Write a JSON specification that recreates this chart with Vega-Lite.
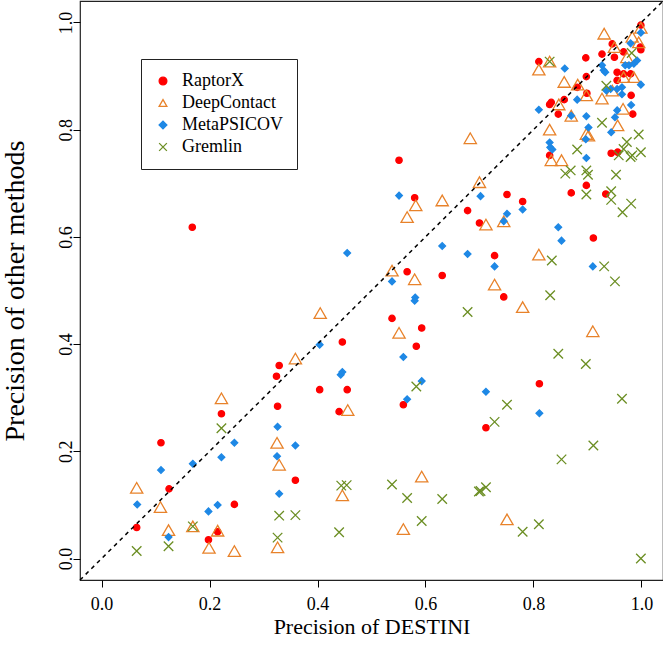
{
  "$schema": "https://vega.github.io/schema/vega-lite/v6.json",
  "width": 583,
  "height": 579,
  "autosize": {"type": "none"},
  "padding": {"left": 80, "top": 1, "right": 0, "bottom": 79},
  "background": "white",
  "config": {
    "view": {"stroke": "#222222", "strokeWidth": 1.2},
    "font": "Liberation Serif",
    "axis": {
      "grid": false,
      "domain": false,
      "tickColor": "black",
      "tickSize": 7,
      "tickWidth": 1,
      "labelFont": "Liberation Serif",
      "labelFontSize": 18,
      "labelColor": "black",
      "labelFlush": false,
      "titleFont": "Liberation Serif",
      "titleFontWeight": "normal",
      "titleColor": "black"
    },
    "legend": {
      "orient": "none",
      "legendX": 61,
      "legendY": 58,
      "strokeColor": "#222222",
      "fillColor": "white",
      "padding": 13,
      "labelFont": "Liberation Serif",
      "labelFontSize": 18,
      "labelColor": "black",
      "symbolSize": 60,
      "symbolStrokeWidth": 1.3,
      "rowPadding": 4,
      "labelOffset": 10
    }
  },
  "datasets": {
    "diag": [{"x": -0.04, "y": -0.04, "x2": 1.04, "y2": 1.04}],
    "pts": [
      {"method": "RaptorX", "x": 0.065, "y": 0.058},
      {"method": "RaptorX", "x": 0.110, "y": 0.216},
      {"method": "RaptorX", "x": 0.125, "y": 0.130},
      {"method": "RaptorX", "x": 0.168, "y": 0.618},
      {"method": "RaptorX", "x": 0.198, "y": 0.035},
      {"method": "RaptorX", "x": 0.215, "y": 0.050},
      {"method": "RaptorX", "x": 0.222, "y": 0.270},
      {"method": "RaptorX", "x": 0.246, "y": 0.101},
      {"method": "RaptorX", "x": 0.326, "y": 0.284},
      {"method": "RaptorX", "x": 0.324, "y": 0.340},
      {"method": "RaptorX", "x": 0.329, "y": 0.360},
      {"method": "RaptorX", "x": 0.359, "y": 0.146},
      {"method": "RaptorX", "x": 0.404, "y": 0.315},
      {"method": "RaptorX", "x": 0.455, "y": 0.315},
      {"method": "RaptorX", "x": 0.440, "y": 0.274},
      {"method": "RaptorX", "x": 0.446, "y": 0.404},
      {"method": "RaptorX", "x": 0.538, "y": 0.448},
      {"method": "RaptorX", "x": 0.559, "y": 0.287},
      {"method": "RaptorX", "x": 0.551, "y": 0.743},
      {"method": "RaptorX", "x": 0.566, "y": 0.535},
      {"method": "RaptorX", "x": 0.580, "y": 0.673},
      {"method": "RaptorX", "x": 0.583, "y": 0.396},
      {"method": "RaptorX", "x": 0.593, "y": 0.430},
      {"method": "RaptorX", "x": 0.631, "y": 0.528},
      {"method": "RaptorX", "x": 0.678, "y": 0.649},
      {"method": "RaptorX", "x": 0.700, "y": 0.626},
      {"method": "RaptorX", "x": 0.712, "y": 0.244},
      {"method": "RaptorX", "x": 0.728, "y": 0.565},
      {"method": "RaptorX", "x": 0.745, "y": 0.488},
      {"method": "RaptorX", "x": 0.751, "y": 0.679},
      {"method": "RaptorX", "x": 0.780, "y": 0.666},
      {"method": "RaptorX", "x": 0.811, "y": 0.326},
      {"method": "RaptorX", "x": 0.911, "y": 0.598},
      {"method": "RaptorX", "x": 0.810, "y": 0.927},
      {"method": "RaptorX", "x": 0.830, "y": 0.752},
      {"method": "RaptorX", "x": 0.833, "y": 0.851},
      {"method": "RaptorX", "x": 0.830, "y": 0.847},
      {"method": "RaptorX", "x": 0.846, "y": 0.829},
      {"method": "RaptorX", "x": 0.857, "y": 0.856},
      {"method": "RaptorX", "x": 0.870, "y": 0.682},
      {"method": "RaptorX", "x": 0.881, "y": 0.879},
      {"method": "RaptorX", "x": 0.897, "y": 0.934},
      {"method": "RaptorX", "x": 0.898, "y": 0.899},
      {"method": "RaptorX", "x": 0.899, "y": 0.868},
      {"method": "RaptorX", "x": 0.898, "y": 0.696},
      {"method": "RaptorX", "x": 0.927, "y": 0.941},
      {"method": "RaptorX", "x": 0.934, "y": 0.680},
      {"method": "RaptorX", "x": 0.944, "y": 0.756},
      {"method": "RaptorX", "x": 0.946, "y": 0.960},
      {"method": "RaptorX", "x": 0.950, "y": 0.935},
      {"method": "RaptorX", "x": 0.955, "y": 0.907},
      {"method": "RaptorX", "x": 0.955, "y": 0.892},
      {"method": "RaptorX", "x": 0.956, "y": 0.758},
      {"method": "RaptorX", "x": 0.967, "y": 0.945},
      {"method": "RaptorX", "x": 0.967, "y": 0.904},
      {"method": "RaptorX", "x": 0.980, "y": 0.904},
      {"method": "RaptorX", "x": 0.981, "y": 0.864},
      {"method": "RaptorX", "x": 0.984, "y": 0.829},
      {"method": "RaptorX", "x": 0.999, "y": 0.995},
      {"method": "RaptorX", "x": 0.998, "y": 0.954},
      {"method": "RaptorX", "x": 0.999, "y": 0.949},
      {"method": "DeepContact", "x": 0.065, "y": 0.132},
      {"method": "DeepContact", "x": 0.109, "y": 0.096},
      {"method": "DeepContact", "x": 0.124, "y": 0.053},
      {"method": "DeepContact", "x": 0.169, "y": 0.060},
      {"method": "DeepContact", "x": 0.215, "y": 0.052},
      {"method": "DeepContact", "x": 0.199, "y": 0.020},
      {"method": "DeepContact", "x": 0.246, "y": 0.014},
      {"method": "DeepContact", "x": 0.222, "y": 0.299},
      {"method": "DeepContact", "x": 0.325, "y": 0.216},
      {"method": "DeepContact", "x": 0.329, "y": 0.175},
      {"method": "DeepContact", "x": 0.326, "y": 0.021},
      {"method": "DeepContact", "x": 0.359, "y": 0.373},
      {"method": "DeepContact", "x": 0.405, "y": 0.458},
      {"method": "DeepContact", "x": 0.456, "y": 0.277},
      {"method": "DeepContact", "x": 0.446, "y": 0.118},
      {"method": "DeepContact", "x": 0.538, "y": 0.537},
      {"method": "DeepContact", "x": 0.551, "y": 0.421},
      {"method": "DeepContact", "x": 0.559, "y": 0.055},
      {"method": "DeepContact", "x": 0.566, "y": 0.637},
      {"method": "DeepContact", "x": 0.580, "y": 0.521},
      {"method": "DeepContact", "x": 0.582, "y": 0.659},
      {"method": "DeepContact", "x": 0.593, "y": 0.153},
      {"method": "DeepContact", "x": 0.631, "y": 0.668},
      {"method": "DeepContact", "x": 0.683, "y": 0.784},
      {"method": "DeepContact", "x": 0.700, "y": 0.702},
      {"method": "DeepContact", "x": 0.712, "y": 0.623},
      {"method": "DeepContact", "x": 0.728, "y": 0.511},
      {"method": "DeepContact", "x": 0.745, "y": 0.629},
      {"method": "DeepContact", "x": 0.751, "y": 0.073},
      {"method": "DeepContact", "x": 0.780, "y": 0.469},
      {"method": "DeepContact", "x": 0.810, "y": 0.567},
      {"method": "DeepContact", "x": 0.910, "y": 0.424},
      {"method": "DeepContact", "x": 0.810, "y": 0.912},
      {"method": "DeepContact", "x": 0.830, "y": 0.927},
      {"method": "DeepContact", "x": 0.830, "y": 0.800},
      {"method": "DeepContact", "x": 0.833, "y": 0.743},
      {"method": "DeepContact", "x": 0.852, "y": 0.743},
      {"method": "DeepContact", "x": 0.847, "y": 0.847},
      {"method": "DeepContact", "x": 0.857, "y": 0.889},
      {"method": "DeepContact", "x": 0.870, "y": 0.826},
      {"method": "DeepContact", "x": 0.882, "y": 0.884},
      {"method": "DeepContact", "x": 0.898, "y": 0.864},
      {"method": "DeepContact", "x": 0.898, "y": 0.792},
      {"method": "DeepContact", "x": 0.902, "y": 0.789},
      {"method": "DeepContact", "x": 0.927, "y": 0.858},
      {"method": "DeepContact", "x": 0.931, "y": 0.979},
      {"method": "DeepContact", "x": 0.946, "y": 0.873},
      {"method": "DeepContact", "x": 0.950, "y": 0.954},
      {"method": "DeepContact", "x": 0.956, "y": 0.808},
      {"method": "DeepContact", "x": 0.966, "y": 0.839},
      {"method": "DeepContact", "x": 0.967, "y": 0.898},
      {"method": "DeepContact", "x": 0.973, "y": 0.935},
      {"method": "DeepContact", "x": 0.983, "y": 0.973},
      {"method": "DeepContact", "x": 0.986, "y": 0.898},
      {"method": "DeepContact", "x": 0.995, "y": 0.963},
      {"method": "DeepContact", "x": 0.999, "y": 0.990},
      {"method": "MetaPSICOV", "x": 0.066, "y": 0.101},
      {"method": "MetaPSICOV", "x": 0.110, "y": 0.165},
      {"method": "MetaPSICOV", "x": 0.124, "y": 0.040},
      {"method": "MetaPSICOV", "x": 0.169, "y": 0.177},
      {"method": "MetaPSICOV", "x": 0.198, "y": 0.088},
      {"method": "MetaPSICOV", "x": 0.215, "y": 0.100},
      {"method": "MetaPSICOV", "x": 0.222, "y": 0.189},
      {"method": "MetaPSICOV", "x": 0.246, "y": 0.216},
      {"method": "MetaPSICOV", "x": 0.326, "y": 0.246},
      {"method": "MetaPSICOV", "x": 0.325, "y": 0.191},
      {"method": "MetaPSICOV", "x": 0.329, "y": 0.121},
      {"method": "MetaPSICOV", "x": 0.359, "y": 0.211},
      {"method": "MetaPSICOV", "x": 0.404, "y": 0.399},
      {"method": "MetaPSICOV", "x": 0.443, "y": 0.343},
      {"method": "MetaPSICOV", "x": 0.446, "y": 0.348},
      {"method": "MetaPSICOV", "x": 0.455, "y": 0.570},
      {"method": "MetaPSICOV", "x": 0.538, "y": 0.517},
      {"method": "MetaPSICOV", "x": 0.551, "y": 0.677},
      {"method": "MetaPSICOV", "x": 0.559, "y": 0.376},
      {"method": "MetaPSICOV", "x": 0.566, "y": 0.297},
      {"method": "MetaPSICOV", "x": 0.581, "y": 0.487},
      {"method": "MetaPSICOV", "x": 0.580, "y": 0.481},
      {"method": "MetaPSICOV", "x": 0.593, "y": 0.331},
      {"method": "MetaPSICOV", "x": 0.631, "y": 0.583},
      {"method": "MetaPSICOV", "x": 0.678, "y": 0.568},
      {"method": "MetaPSICOV", "x": 0.702, "y": 0.676},
      {"method": "MetaPSICOV", "x": 0.712, "y": 0.311},
      {"method": "MetaPSICOV", "x": 0.728, "y": 0.545},
      {"method": "MetaPSICOV", "x": 0.745, "y": 0.629},
      {"method": "MetaPSICOV", "x": 0.751, "y": 0.643},
      {"method": "MetaPSICOV", "x": 0.780, "y": 0.651},
      {"method": "MetaPSICOV", "x": 0.811, "y": 0.271},
      {"method": "MetaPSICOV", "x": 0.846, "y": 0.618},
      {"method": "MetaPSICOV", "x": 0.852, "y": 0.593},
      {"method": "MetaPSICOV", "x": 0.910, "y": 0.545},
      {"method": "MetaPSICOV", "x": 0.810, "y": 0.837},
      {"method": "MetaPSICOV", "x": 0.830, "y": 0.776},
      {"method": "MetaPSICOV", "x": 0.831, "y": 0.767},
      {"method": "MetaPSICOV", "x": 0.835, "y": 0.763},
      {"method": "MetaPSICOV", "x": 0.858, "y": 0.914},
      {"method": "MetaPSICOV", "x": 0.870, "y": 0.826},
      {"method": "MetaPSICOV", "x": 0.881, "y": 0.856},
      {"method": "MetaPSICOV", "x": 0.897, "y": 0.782},
      {"method": "MetaPSICOV", "x": 0.898, "y": 0.825},
      {"method": "MetaPSICOV", "x": 0.898, "y": 0.747},
      {"method": "MetaPSICOV", "x": 0.902, "y": 0.804},
      {"method": "MetaPSICOV", "x": 0.927, "y": 0.920},
      {"method": "MetaPSICOV", "x": 0.930, "y": 0.911},
      {"method": "MetaPSICOV", "x": 0.933, "y": 0.907},
      {"method": "MetaPSICOV", "x": 0.935, "y": 0.873},
      {"method": "MetaPSICOV", "x": 0.943, "y": 0.876},
      {"method": "MetaPSICOV", "x": 0.944, "y": 0.795},
      {"method": "MetaPSICOV", "x": 0.951, "y": 0.823},
      {"method": "MetaPSICOV", "x": 0.955, "y": 0.876},
      {"method": "MetaPSICOV", "x": 0.955, "y": 0.836},
      {"method": "MetaPSICOV", "x": 0.964, "y": 0.879},
      {"method": "MetaPSICOV", "x": 0.964, "y": 0.866},
      {"method": "MetaPSICOV", "x": 0.970, "y": 0.920},
      {"method": "MetaPSICOV", "x": 0.977, "y": 0.920},
      {"method": "MetaPSICOV", "x": 0.980, "y": 0.961},
      {"method": "MetaPSICOV", "x": 0.981, "y": 0.846},
      {"method": "MetaPSICOV", "x": 0.986, "y": 0.923},
      {"method": "MetaPSICOV", "x": 0.992, "y": 0.929},
      {"method": "MetaPSICOV", "x": 0.999, "y": 0.981},
      {"method": "MetaPSICOV", "x": 0.999, "y": 0.884},
      {"method": "Gremlin", "x": 0.065, "y": 0.014},
      {"method": "Gremlin", "x": 0.124, "y": 0.023},
      {"method": "Gremlin", "x": 0.169, "y": 0.060},
      {"method": "Gremlin", "x": 0.222, "y": 0.243},
      {"method": "Gremlin", "x": 0.326, "y": 0.039},
      {"method": "Gremlin", "x": 0.329, "y": 0.080},
      {"method": "Gremlin", "x": 0.359, "y": 0.081},
      {"method": "Gremlin", "x": 0.440, "y": 0.049},
      {"method": "Gremlin", "x": 0.444, "y": 0.136},
      {"method": "Gremlin", "x": 0.454, "y": 0.137},
      {"method": "Gremlin", "x": 0.538, "y": 0.138},
      {"method": "Gremlin", "x": 0.566, "y": 0.113},
      {"method": "Gremlin", "x": 0.583, "y": 0.321},
      {"method": "Gremlin", "x": 0.593, "y": 0.070},
      {"method": "Gremlin", "x": 0.631, "y": 0.111},
      {"method": "Gremlin", "x": 0.678, "y": 0.460},
      {"method": "Gremlin", "x": 0.699, "y": 0.125},
      {"method": "Gremlin", "x": 0.702, "y": 0.126},
      {"method": "Gremlin", "x": 0.712, "y": 0.133},
      {"method": "Gremlin", "x": 0.728, "y": 0.255},
      {"method": "Gremlin", "x": 0.751, "y": 0.287},
      {"method": "Gremlin", "x": 0.780, "y": 0.050},
      {"method": "Gremlin", "x": 0.810, "y": 0.064},
      {"method": "Gremlin", "x": 0.831, "y": 0.491},
      {"method": "Gremlin", "x": 0.834, "y": 0.556},
      {"method": "Gremlin", "x": 0.846, "y": 0.382},
      {"method": "Gremlin", "x": 0.852, "y": 0.185},
      {"method": "Gremlin", "x": 0.897, "y": 0.363},
      {"method": "Gremlin", "x": 0.911, "y": 0.211},
      {"method": "Gremlin", "x": 0.931, "y": 0.545},
      {"method": "Gremlin", "x": 0.951, "y": 0.517},
      {"method": "Gremlin", "x": 0.964, "y": 0.298},
      {"method": "Gremlin", "x": 0.999, "y": 0.000},
      {"method": "Gremlin", "x": 0.830, "y": 0.927},
      {"method": "Gremlin", "x": 0.859, "y": 0.718},
      {"method": "Gremlin", "x": 0.869, "y": 0.724},
      {"method": "Gremlin", "x": 0.881, "y": 0.763},
      {"method": "Gremlin", "x": 0.898, "y": 0.724},
      {"method": "Gremlin", "x": 0.901, "y": 0.716},
      {"method": "Gremlin", "x": 0.898, "y": 0.679},
      {"method": "Gremlin", "x": 0.927, "y": 0.813},
      {"method": "Gremlin", "x": 0.935, "y": 0.882},
      {"method": "Gremlin", "x": 0.944, "y": 0.685},
      {"method": "Gremlin", "x": 0.944, "y": 0.669},
      {"method": "Gremlin", "x": 0.953, "y": 0.716},
      {"method": "Gremlin", "x": 0.958, "y": 0.752},
      {"method": "Gremlin", "x": 0.965, "y": 0.646},
      {"method": "Gremlin", "x": 0.967, "y": 0.764},
      {"method": "Gremlin", "x": 0.973, "y": 0.777},
      {"method": "Gremlin", "x": 0.980, "y": 0.749},
      {"method": "Gremlin", "x": 0.981, "y": 0.662},
      {"method": "Gremlin", "x": 0.982, "y": 0.943},
      {"method": "Gremlin", "x": 0.983, "y": 0.752},
      {"method": "Gremlin", "x": 0.995, "y": 0.791},
      {"method": "Gremlin", "x": 0.999, "y": 0.758}
    ]
  },
  "encoding": {
    "x": {
      "field": "x", "type": "quantitative",
      "scale": {"domain": [-0.04, 1.04], "nice": false, "zero": false},
      "axis": {"title": "Precision of DESTINI", "values": [0, 0.2, 0.4, 0.6, 0.8, 1], "format": ".1f", "labelPadding": 8, "titleFontSize": 22, "titleBaseline": "alphabetic", "titleY": 53}
    },
    "y": {
      "field": "y", "type": "quantitative",
      "scale": {"domain": [-0.04, 1.04], "nice": false, "zero": false},
      "axis": {"title": "Precision of other methods", "values": [0, 0.2, 0.4, 0.6, 0.8, 1], "format": ".1f", "labelAngle": -90, "labelAlign": "center", "labelBaseline": "alphabetic", "labelPadding": 2, "titleFontSize": 28, "titleBaseline": "alphabetic", "titleX": -57}
    }
  },
  "layer": [
    {
      "data": {"name": "pts"},
      "transform": [{"filter": "datum.method == 'RaptorX'"}],
      "mark": {"type": "point", "opacity": 1, "strokeWidth": 1.3, "size": 40},
      "encoding": {
        "shape": {"field": "method", "type": "nominal", "scale": {"domain": ["RaptorX", "DeepContact", "MetaPSICOV", "Gremlin"], "range": ["circle", "triangle-up", "diamond", "M-1,-1L1,1M-1,1L1,-1"]}, "legend": {"title": null}},
        "fill": {"field": "method", "type": "nominal", "scale": {"domain": ["RaptorX", "DeepContact", "MetaPSICOV", "Gremlin"], "range": ["#FF0000", "transparent", "#1E88E5", "transparent"]}, "legend": {"title": null}},
        "stroke": {"field": "method", "type": "nominal", "scale": {"domain": ["RaptorX", "DeepContact", "MetaPSICOV", "Gremlin"], "range": ["#FF0000", "#E8822A", "#1E88E5", "#6B8E23"]}, "legend": {"title": null}}
      }
    },
    {
      "data": {"name": "pts"},
      "transform": [{"filter": "datum.method == 'DeepContact'"}],
      "mark": {"type": "point", "opacity": 1, "strokeWidth": 1.3, "size": 150},
      "encoding": {
        "shape": {"field": "method", "type": "nominal", "legend": {"title": null}},
        "fill": {"field": "method", "type": "nominal", "legend": {"title": null}},
        "stroke": {"field": "method", "type": "nominal", "legend": {"title": null}}
      }
    },
    {
      "data": {"name": "pts"},
      "transform": [{"filter": "datum.method == 'MetaPSICOV'"}],
      "mark": {"type": "point", "opacity": 1, "strokeWidth": 1.3, "size": 45},
      "encoding": {
        "shape": {"field": "method", "type": "nominal", "legend": {"title": null}},
        "fill": {"field": "method", "type": "nominal", "legend": {"title": null}},
        "stroke": {"field": "method", "type": "nominal", "legend": {"title": null}}
      }
    },
    {
      "data": {"name": "pts"},
      "transform": [{"filter": "datum.method == 'Gremlin'"}],
      "mark": {"type": "point", "opacity": 1, "strokeWidth": 1.3, "size": 90},
      "encoding": {
        "shape": {"field": "method", "type": "nominal", "legend": {"title": null}},
        "fill": {"field": "method", "type": "nominal", "legend": {"title": null}},
        "stroke": {"field": "method", "type": "nominal", "legend": {"title": null}}
      }
    },
    {
      "data": {"name": "diag"},
      "mark": {"type": "rule", "color": "black", "strokeDash": [4, 4], "strokeWidth": 1.5},
      "encoding": {
        "x2": {"field": "x2"},
        "y2": {"field": "y2"}
      }
    }
  ]
}
